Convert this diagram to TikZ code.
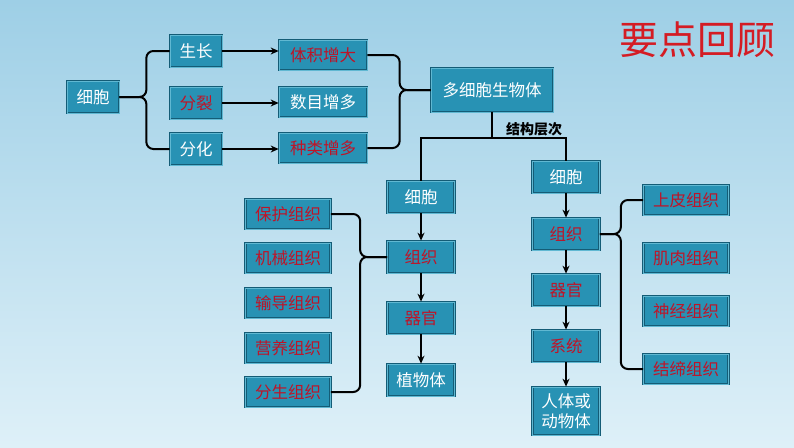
\documentclass[tikz,border=0pt]{standalone}
\usepackage{fontspec}
\setmainfont{Noto Sans CJK SC}
\usepackage{tikz}
\usetikzlibrary{arrows.meta}

\definecolor{cajaazul}{RGB}{40,146,180}
\definecolor{bordeazul}{RGB}{20,92,118}
\definecolor{bordeclaro}{RGB}{96,184,210}
\definecolor{rojo}{RGB}{190,20,40}
\definecolor{titulorojo}{RGB}{212,28,36}
\definecolor{fondoarriba}{RGB}{158,207,230}
\definecolor{fondoabajo}{RGB}{222,240,248}

\tikzset{
  caja/.style={draw=bordeazul, double=bordeclaro, double distance=0.8pt, line width=0.7pt,
    fill=cajaazul, text=white, inner sep=0pt, align=center,
    font=\fontsize{16.5}{19}\selectfont},
  rojotxt/.style={text=rojo},
  chica/.style={caja, minimum width=52pt, minimum height=32pt},
  larga/.style={caja, minimum width=88pt, minimum height=30pt},
  media/.style={caja, minimum width=67pt, minimum height=32pt},
  lista/.style={caja, minimum width=85pt, minimum height=30pt, text=rojo},
  llave/.style={line width=2pt, rounded corners=7pt},
  linea/.style={line width=2pt},
  flecha/.style={line width=2pt, -{Stealth[length=8pt,width=7pt]}}
}

\begin{document}
\begin{tikzpicture}[x=1pt,y=-1pt]
    \useasboundingbox (0,0) rectangle (794,447);
    \shade[top color=fondoarriba, bottom color=fondoabajo] (0,0) rectangle (794,447);

    \draw (697,40) node[text=titulorojo, font=\fontsize{39}{42}\selectfont] (titulo) {要点回顾};

    \draw (93,97) node[chica] (xibao) {细胞};
      \draw (196,51) node[chica] (shengzhang) {生长};
      \draw (196,103) node[chica, rojotxt] (fenlie) {分裂};
      \draw (196,149) node[chica] (fenhua) {分化};
   \draw (323,55) node[larga, rojotxt] (tiji) {体积增大};
   \draw (323,102) node[larga] (shumu) {数目增多};
   \draw (323,148) node[larga, rojotxt] (zhonglei) {种类增多};
   \draw (492,90) node[caja, minimum width=122pt, minimum height=44pt] (duoxibao) {多细胞生物体};
      \draw (534,129) node[font=\fontsize{14}{16}\selectfont\bfseries] (cengci) {结构层次};

   \draw (421,197) node[media] (xibaoP) {细胞};
   \draw (421,257) node[media, rojotxt] (zuzhiP) {组织};
   \draw (421,318) node[media, rojotxt] (qiguanP) {器官};
   \draw (421,380) node[media] (zhiwu) {植物体};

      \draw (288,214) node[lista] (baohu) {保护组织};
      \draw (288,258) node[lista] (jixie) {机械组织};
      \draw (288,303) node[lista] (shudao) {输导组织};
      \draw (288,348) node[lista] (yingyang) {营养组织};
      \draw (288,392) node[lista] (fensheng) {分生组织};

   \draw (566,177) node[media] (xibaoD) {细胞};
   \draw (566,234) node[media, rojotxt] (zuzhiD) {组织};
   \draw (566,290) node[media, rojotxt] (qiguanD) {器官};
   \draw (566,346) node[media, rojotxt] (xitong) {系统};
   \draw (566,411) node[media, minimum height=48pt, font=\fontsize{16.5}{20}\selectfont] (dongwu) {人体或\\动物体};

      \draw (686,200) node[lista] (shangpi) {上皮组织};
      \draw (686,258) node[lista] (jirou) {肌肉组织};
      \draw (686,311) node[lista] (shenjing) {神经组织};
      \draw (686,369) node[lista] (jiedi) {结缔组织};

     \draw[llave] (xibao.east) -- ++(27,0) |- (shengzhang.west);
     \draw[llave] (xibao.east) -- ++(27,0) |- (fenhua.west);
     \path[flecha] (shengzhang.east) edge (shengzhang.east -| tiji.west);
     \path[flecha] (fenlie.east) edge (fenlie.east -| shumu.west);
     \path[flecha] (fenhua.east) edge (fenhua.east -| zhonglei.west);
     \draw[llave] (duoxibao.west) -- ++(-31,0) |- (tiji.east);
     \draw[llave] (duoxibao.west) -- ++(-31,0) |- (zhonglei.east);

     \draw[linea] (duoxibao.south) -- ++(0,26) coordinate (rama);
     \draw[linea] (rama) -| (xibaoP.north);
     \draw[linea] (rama) -| (xibaoD.north);

     \path[flecha] (xibaoP) edge (zuzhiP);
     \path[flecha] (zuzhiP) edge (qiguanP);
     \path[flecha] (qiguanP) edge (zhiwu);
     \draw[llave] (zuzhiP.west) -- ++(-27,0) |- (baohu.east);
     \draw[llave] (zuzhiP.west) -- ++(-27,0) |- (fensheng.east);

     \path[flecha] (xibaoD) edge (zuzhiD);
     \path[flecha] (zuzhiD) edge (qiguanD);
     \path[flecha] (qiguanD) edge (xitong);
     \path[flecha] (xitong) edge (dongwu);
     \draw[llave] (zuzhiD.east) -- ++(21,0) |- (shangpi.west);
     \draw[llave] (zuzhiD.east) -- ++(21,0) |- (jiedi.west);

\end{tikzpicture}
\end{document}
